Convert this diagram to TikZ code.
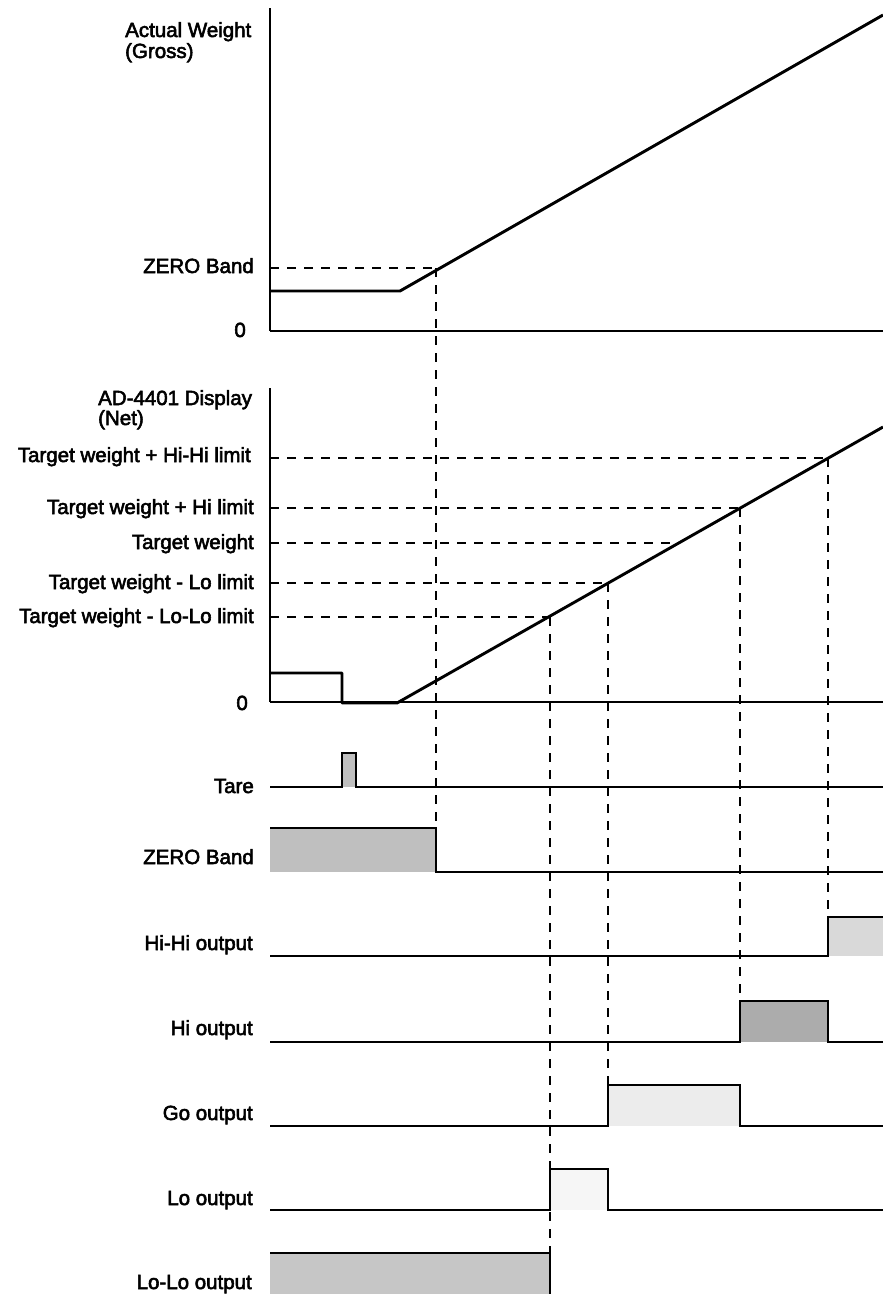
\documentclass[tikz,border=0pt]{standalone}
\usepackage{fontspec}
\setmainfont{Liberation Sans}
\newcommand{\heavytext}{\special{pdf:literal direct 2 Tr 0.55 w}}
\begin{document}
\begin{tikzpicture}[x=1pt,y=-1pt,
  sig/.style={line width=2.3pt, line join=miter},
  ramp/.style={line width=2.9pt, line join=round},
  axis/.style={line width=1.5pt},
  guide/.style={line width=1.2pt, dash pattern=on 9pt off 8pt},
  lab/.style={anchor=base east, inner sep=0pt, font=\fontsize{20.5}{21}\selectfont\heavytext},
  labl/.style={anchor=base west, inner sep=0pt, font=\fontsize{20.5}{21}\selectfont\heavytext}]
\useasboundingbox (0,0) rectangle (883,1294);
\fill[white] (0,0) rectangle (883,1294);

% ---------- top chart: gross ----------
\node[labl] (gA) at (125,37) {Actual Weight};
\node[labl] (gB) at (125,58) {(Gross)};
\node[lab] (gZ) at (254,273) {ZERO Band};
\node[lab] (g0) at (246,337) {0};
\coordinate (gtop) at (270,8);
\coordinate (gorg) at (270,331);
\coordinate (gend) at (883,331);
\draw[axis] (gtop) -- (gorg);
\draw[sig] (gorg) -- (gend);
\coordinate (gs) at (270,291);
\coordinate (gk) at (400,291);
\coordinate (ge) at (883,15);
\draw[ramp] (gs) -- (gk) -- (ge);
\coordinate (zbL) at (270,268);
\coordinate (zbX) at (436,268);
\draw[guide] (zbL) -- (zbX);

% ---------- net chart ----------
\node[labl] (nA) at (98,405) {AD-4401 Display};
\node[labl] (nB) at (98,425) {(Net)};
\node[lab] (lHH) at (251,462) {Target weight + Hi-Hi limit};
\node[lab] (lH) at (254,514) {Target weight + Hi limit};
\node[lab] (lT) at (254,549) {Target weight};
\node[lab] (lL) at (254,589) {Target weight - Lo limit};
\node[lab] (lLL) at (254,623) {Target weight - Lo-Lo limit};
\node[lab] (n0) at (248,710) {0};
\coordinate (ntop) at (270,388);
\coordinate (norg) at (270,702);
\coordinate (nend) at (883,702);
\draw[axis] (ntop) -- (norg);
\draw[sig] (norg) -- (nend);
\coordinate (n1) at (270,673);
\coordinate (n2) at (342,673);
\coordinate (n3) at (342,703);
\coordinate (n4) at (397,703);
\coordinate (n5) at (883,427);
\draw[ramp] (n1) -- (n2) -- (n3) -- (n4) -- (n5);

\coordinate (pHH) at (828,458);
\coordinate (pH) at (740,508);
\coordinate (pT) at (679,543);
\coordinate (pL) at (608,583);
\coordinate (pLL) at (550,617);
\draw[guide] (270,458) -- (pHH);
\draw[guide] (270,508) -- (pH);
\draw[guide] (270,543) -- (pT);
\draw[guide] (270,583) -- (pL);
\draw[guide] (270,617) -- (pLL);

% ---------- vertical guides ----------
\coordinate (eZB) at (436,828);
\coordinate (eLL) at (550,1253);
\coordinate (eL) at (608,1085);
\coordinate (eH) at (740,1001);
\coordinate (eHH) at (828,917);
\draw[guide] (zbX) -- (eZB);
\draw[guide] (pLL) -- (eLL);
\draw[guide] (pL) -- (eL);
\draw[guide] (pH) -- (eH);
\draw[guide] (pHH) -- (eHH);

% ---------- outputs ----------
\node[lab] (sT) at (254,793) {Tare};
\node[lab] (sZ) at (254,864) {ZERO Band};
\node[lab] (sHH) at (253,950) {Hi-Hi output};
\node[lab] (sH) at (253,1035) {Hi output};
\node[lab] (sG) at (253,1120) {Go output};
\node[lab] (sL) at (253,1205) {Lo output};
\node[lab] (sLL) at (252,1289) {Lo-Lo output};

% Tare
\fill[gray!50] (342,753) rectangle (356,787);
\draw[sig] (270,787) -- (342,787) -- (342,753) -- (356,753) -- (356,787) -- (883,787);
% ZERO Band
\fill[gray!50] (270,828) rectangle (436,872);
\draw[sig] (270,828) -- (eZB) -- (436,872) -- (883,872);
% Hi-Hi
\fill[gray!30] (828,917) rectangle (883,956);
\draw[sig] (270,956) -- (828,956) -- (eHH) -- (883,917);
% Hi
\fill[gray!65] (740,1001) rectangle (828,1042);
\draw[sig] (270,1042) -- (740,1042) -- (eH) -- (828,1001) -- (828,1042) -- (883,1042);
% Go
\fill[gray!15] (608,1085) rectangle (740,1126);
\draw[sig] (270,1126) -- (608,1126) -- (eL) -- (740,1085) -- (740,1126) -- (883,1126);
% Lo
\fill[gray!7] (550,1169) rectangle (608,1210);
\draw[sig] (270,1210) -- (550,1210) -- (550,1169) -- (608,1169) -- (608,1210) -- (883,1210);
% Lo-Lo
\fill[gray!45] (270,1253) rectangle (550,1294);
\draw[sig] (270,1253) -- (eLL) -- (550,1294);
\end{tikzpicture}
\end{document}
